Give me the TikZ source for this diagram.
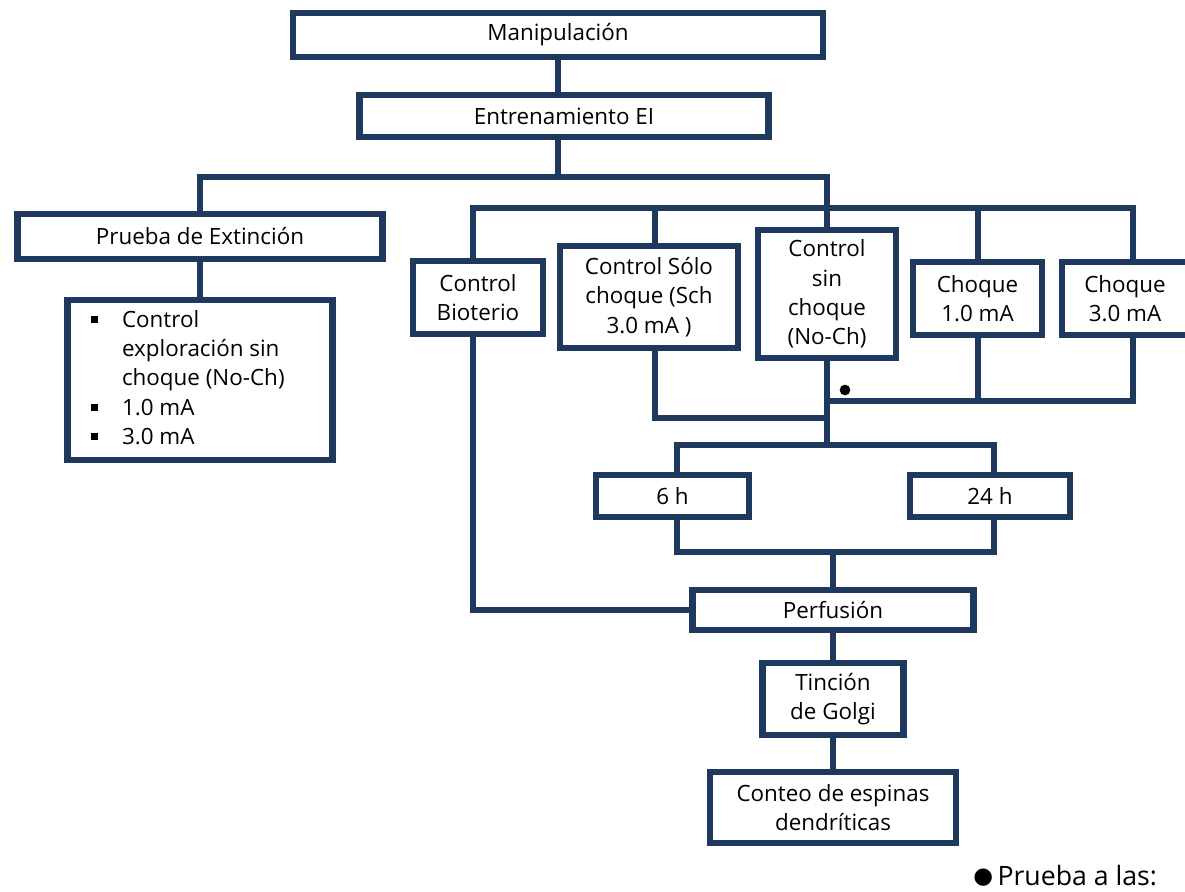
\documentclass[tikz,border=0pt]{standalone}
\usepackage{fontspec}
\setmainfont{Open Sans}
\newfontfamily\dejavu{DejaVu Sans}
\definecolor{navy}{RGB}{31,56,94}
\begin{document}
\begin{tikzpicture}[x=0.75pt,y=-0.75pt,
  box/.style={draw=navy, line width=4.8pt, fill=white, align=center, inner sep=0pt,
    font=\fontsize{16.8}{22}\selectfont},
  wh/.style 2 args={minimum width=#1*0.75pt, minimum height=#2*0.75pt},
  conn/.style={draw=navy, line width=4.8pt, line cap=rect}]
\useasboundingbox (0,0) rectangle (1185,892);
\begin{scope}
\clip (0,0) rectangle (1185,892);
% nodes
\node[box, wh={530}{44}] (man) at (558,35) {Manipulación};
\node[box, wh={409}{42}] (ent) at (564,116) {Entrenamiento EI};
\node[box, wh={365}{45}] (pext) at (200,236.5) {Prueba de Extinción};
\node[box, wh={265}{160}] (list) at (200,380) {%
  \begin{tabular}{@{}l@{\hspace{18pt}}l@{}}
  \raisebox{3.5pt}{\rule{5pt}{5pt}} & Control\\
  & exploración sin\\
  & choque (No-Ch)\\
  \raisebox{3.5pt}{\rule{5pt}{5pt}} & 1.0 mA\\
  \raisebox{3.5pt}{\rule{5pt}{5pt}} & 3.0 mA
  \end{tabular}\hspace{18pt}};
\node[box, wh={130}{73}] (bio) at (478,297.5) {Control\\Bioterio};
\node[box, wh={178}{102}] (sch) at (649,297) {Control Sólo\\choque (Sch\\3.0 mA )};
\node[box, wh={138}{128}] (nch) at (827,294) {Control\\sin\\choque\\(No-Ch)};
\node[box, wh={129}{73}] (c1) at (977.5,298.5) {Choque\\1.0 mA};
\node[box, wh={126}{73}] (c3) at (1125,298.5) {Choque\\3.0 mA};
\node[box, wh={153}{42}] (h6) at (672.5,496) {6 h};
\node[box, wh={160}{42}] (h24) at (990,496) {24 h};
\node[box, wh={281}{40}] (perf) at (833,610) {Perfusión};
\node[box, wh={141}{72}] (golgi) at (833,699) {Tinción\\de Golgi};
\node[box, wh={246}{71}] (conteo) at (833,807.5) {Conteo de espinas\\dendríticas};
\node[circle, fill=black, minimum size=8pt, inner sep=0pt] (dot) at (845,390) {};
\node[anchor=base west, inner sep=0pt, font=\fontsize{20}{22}\selectfont] (legend) at (973,885)
  {\raisebox{1.5pt}{\dejavu\fontsize{17}{20}\selectfont ●}\,Prueba a las:};
% bus coordinates
\coordinate (b1l) at (200,177);
\coordinate (b1r) at (827,177);
\coordinate (b2l) at (473,208);
\coordinate (b2r) at (1133,208);
\coordinate (vs) at (655,418);
\coordinate (vc1) at (978,401);
\coordinate (vc3) at (1133,401);
\coordinate (b3l) at (677,445);
\coordinate (b3r) at (994,445);
\coordinate (b4l) at (677,552);
\coordinate (b4r) at (994,552);
% connectors
\draw[conn] (man.south) -- (ent.north -| man.south);
\draw[conn] (ent.south -| man.south) -- (b1l -| man.south);
\draw[conn] (pext.north) -- (b1l) -- (b1r) -- (nch.north);
\draw[conn] (pext.south) -- (list.north);
\draw[conn] (bio.north -| b2l) -- (b2l) -- (b2r) -- (c3.north -| b2r);
\draw[conn] (sch.north -| vs) -- (vs |- b2l);
\draw[conn] (c1.north -| vc1) -- (vc1 |- b2l);
\draw[conn] (sch.south -| vs) -- (vs) -- (vs -| nch.south);
\draw[conn] (c1.south -| vc1) -- (vc1);
\draw[conn] (c3.south -| vc3) -- (vc3) -- (vc3 -| nch.south);
\draw[conn] (nch.south) -- (nch.south |- b3l);
\draw[conn] (h6.north -| b3l) -- (b3l) -- (b3r) -- (h24.north -| b3r);
\draw[conn] (h6.south -| b4l) -- (b4l) -- (b4r) -- (h24.south -| b4r);
\draw[conn] (perf.north |- b4l) -- (perf.north);
\draw[conn] (bio.south -| b2l) -- (b2l |- perf.west) -- (perf.west);
\draw[conn] (perf.south) -- (golgi.north);
\draw[conn] (golgi.south) -- (conteo.north);
\end{scope}
\end{tikzpicture}
\end{document}
